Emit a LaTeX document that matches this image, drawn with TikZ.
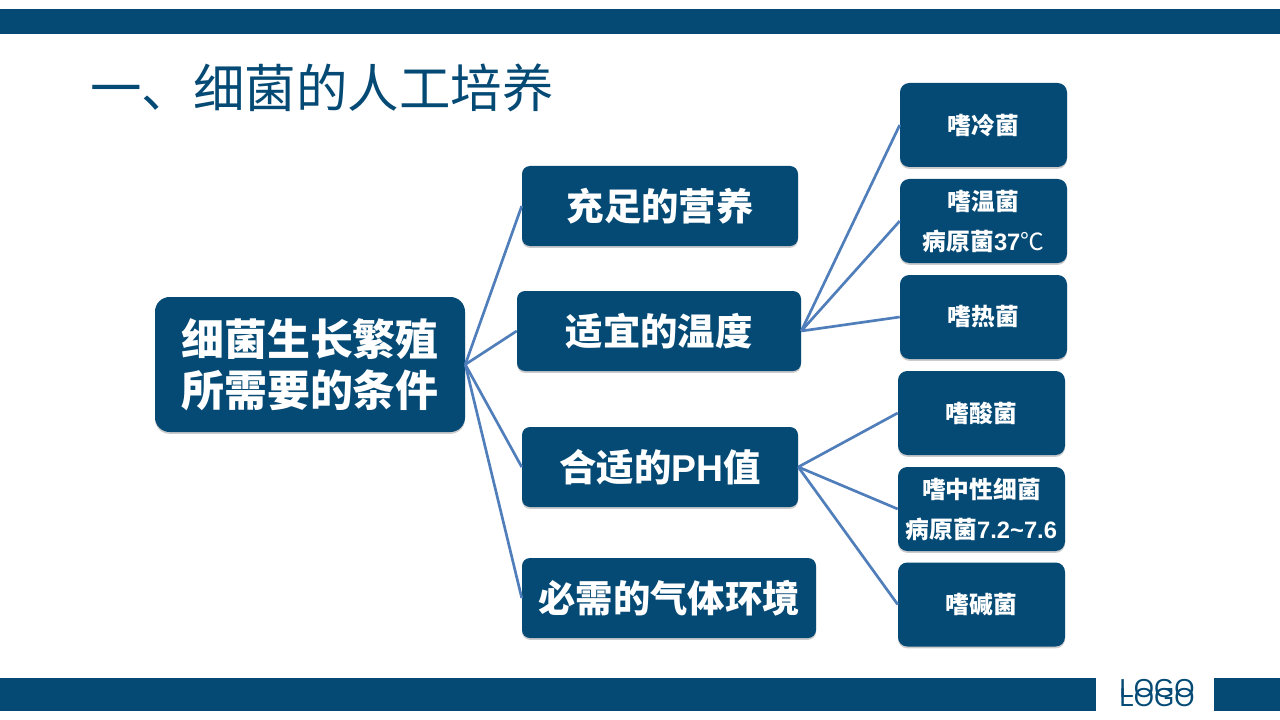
\documentclass[tikz,border=0pt]{standalone}
\usepackage{fontspec}
\setmainfont{Liberation Sans}
\newfontfamily\cjk{Noto Sans CJK SC}
\newfontfamily\lat{Liberation Sans}
\usetikzlibrary{shadows}
\definecolor{navy}{HTML}{044A75}
\definecolor{link}{HTML}{4F7EBA}
\tikzset{
  x=0.75pt,y=-0.75pt,
  boxbase/.style={fill=navy,text=white,inner sep=0pt,align=center,font=\cjk\bfseries,
    drop shadow={shadow xshift=0pt,shadow yshift=-1.4pt,opacity=0.2,fill=black}},
  rootbox/.style={boxbase,rounded corners=11pt,minimum width=232.5pt,minimum height=101.25pt},
  midbox/.style={boxbase,rounded corners=6pt,minimum height=60pt},
  leafbox/.style={boxbase,rounded corners=7pt,minimum width=125.25pt,minimum height=63pt},
  bar/.style={fill=navy,draw=none},
  conn/.style={draw=link,line width=2pt},
  logotext/.style={inner sep=0pt,text=navy,font=\fontsize{19.5}{19.5}\selectfont\lat},
}
\newcommand{\midfont}{\fontsize{28}{34}\selectfont}
\newcommand{\leaffont}{\fontsize{17.8}{30}\selectfont}
\newcommand{\up}[1]{\raisebox{0.8pt}{#1}}
\begin{document}
\begin{tikzpicture}
\useasboundingbox (0,0) rectangle (1280,720);
\fill[white] (0,0) rectangle (1280,720);
\fill[bar] (0,9) rectangle (1280,34);
\fill[bar] (0,678) rectangle (1096,711);
\fill[bar] (1214,678) rectangle (1280,711);
\node[anchor=west,inner sep=0pt,text=navy,font=\cjk\fontsize{38.6}{38.6}\selectfont] (title) at (90,87.5) {一、细菌的人工培养};
\node[logotext] (logo) at (1157,688.5) {LOGO};
\node[logotext] (logob) at (1157,697.5) {LOGO};
\node[rootbox,font=\cjk\bfseries\fontsize{32.2}{38.5}\selectfont] (root) at (310,364.5) {\up{\up{细菌生长繁殖}}\\\up{\up{所需要的条件}}};
\node[midbox,minimum width=207pt,font=\cjk\bfseries\midfont] (m1) at (660,206) {\up{充足的营养}};
\node[midbox,minimum width=213pt,font=\cjk\bfseries\midfont] (m2) at (659,331) {\up{适宜的温度}};
\node[midbox,minimum width=207pt,font=\cjk\bfseries\midfont] (m3) at (660,467) {\up{合适的{\lat\bfseries PH}值}};
\node[midbox,minimum width=220.5pt,font=\cjk\bfseries\midfont] (m4) at (669,598) {\up{必需的气体环境}};
\node[leafbox,font=\cjk\bfseries\leaffont] (a1) at (983.5,125) {\up{嗜冷菌}};
\node[leafbox,font=\cjk\bfseries\leaffont] (a2) at (983.5,221) {\up{嗜温菌}\\\up{病原菌{\lat\bfseries 37}{\fontseries{m}\selectfont ℃}}};
\node[leafbox,font=\cjk\bfseries\leaffont] (a3) at (983.5,317) {嗜热菌};
\node[leafbox,font=\cjk\bfseries\leaffont] (b1) at (981.5,413) {\up{嗜酸菌}};
\node[leafbox,font=\cjk\bfseries\leaffont] (b2) at (981.5,509) {\up{嗜中性细菌}\\\up{病原菌{\lat\bfseries 7.2\textasciitilde 7.6}}};
\node[leafbox,font=\cjk\bfseries\leaffont] (b3) at (981.5,604.5) {嗜碱菌};
\foreach \t in {m1,m2,m3,m4} \draw[conn] (root.east) -- (\t.west);
\foreach \t in {a1,a2,a3} \draw[conn] (m2.east) -- (\t.west);
\foreach \t in {b1,b2,b3} \draw[conn] (m3.east) -- (\t.west);
\end{tikzpicture}
\end{document}
